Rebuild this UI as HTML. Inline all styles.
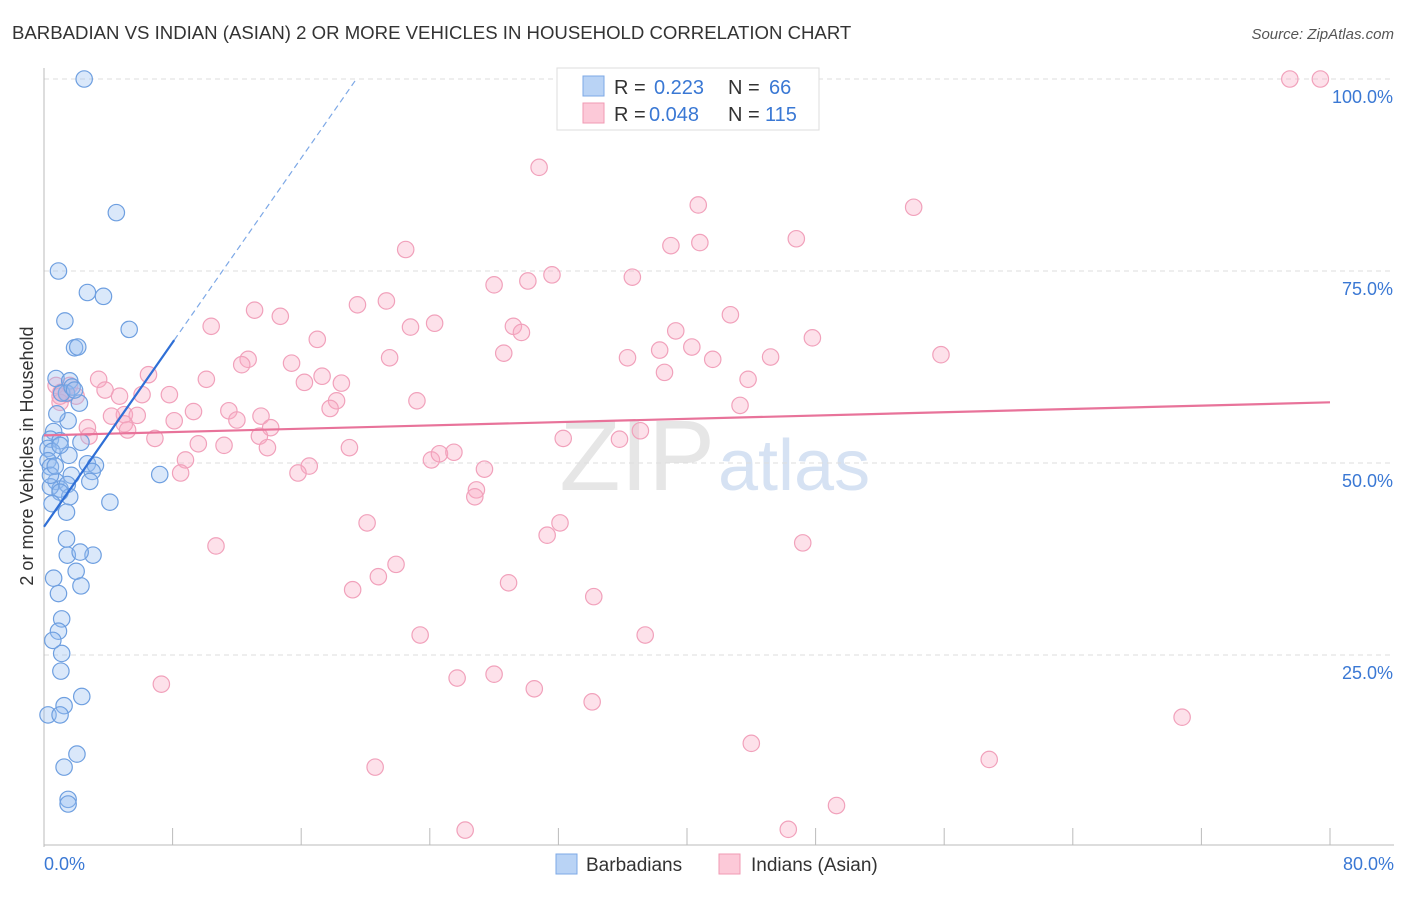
<!DOCTYPE html>
<html><head><meta charset="utf-8">
<style>
body{margin:0;background:#fff;font-family:"Liberation Sans",sans-serif;}
svg text{font-family:"Liberation Sans",sans-serif;}
</style></head>
<body>
<svg id="chart" width="1406" height="892">
<text x="12" y="39" font-size="18.6" fill="#333">BARBADIAN VS INDIAN (ASIAN) 2 OR MORE VEHICLES IN HOUSEHOLD CORRELATION CHART</text>
<text x="1394" y="39" font-size="15" fill="#555" text-anchor="end" font-style="italic">Source: ZipAtlas.com</text>
<text x="715" y="490" font-size="100" fill="#e6e6e6" text-anchor="end" font-family="Liberation Serif">ZIP</text>
<text x="718" y="490" font-size="72" fill="#d6e2f3">atlas</text>
<g id="grid"></g><g id="axes"></g><g id="pts"></g><g id="lines"></g>
<text transform="translate(33,456) rotate(-90)" font-size="18" fill="#333" text-anchor="middle">2 or more Vehicles in Household</text>
<g>
<rect x="557" y="68" width="262" height="62" fill="#fff" stroke="#ddd"/>
<rect x="583" y="76" width="21" height="20" fill="#b9d3f5" stroke="#7da8e6"/>
<rect x="583" y="103" width="21" height="20" fill="#fcc9d8" stroke="#f09ab3"/>
<text x="614" y="94" font-size="20" fill="#333">R = </text><text x="654" y="94" font-size="20" fill="#3a78d4">0.223</text>
<text x="728" y="94" font-size="20" fill="#333">N = </text><text x="769" y="94" font-size="20" fill="#3a78d4">66</text>
<text x="614" y="121" font-size="20" fill="#333">R = </text><text x="649" y="121" font-size="20" fill="#3a78d4">0.048</text>
<text x="728" y="121" font-size="20" fill="#333">N = </text><text x="765" y="121" font-size="20" fill="#3a78d4">115</text>
</g>
<g>
<rect x="556" y="854" width="21" height="20" fill="#b9d3f5" stroke="#7da8e6"/>
<text x="586" y="871" font-size="19" fill="#333">Barbadians</text>
<rect x="719" y="854" width="21" height="20" fill="#fcc9d8" stroke="#f09ab3"/>
<text x="751" y="871" font-size="19" fill="#333">Indians (Asian)</text>
</g>
</svg>
<script>
const blueX=[2.5,4.5,0.9,2.7,3.7,1.3,5.3,1.9,2.1,0.75,1.6,1.4,1.1,2.2,1.5,0.8,0.6,0.4,1.0,2.3,0.25,0.5,1.55,0.25,0.4,2.7,3.2,3.0,7.2,1.7,2.85,0.75,1.0,0.4,1.45,1.6,1.0,0.5,4.1,1.4,1.45,3.05,2.25,2.0,0.6,2.3,0.9,1.1,0.9,0.55,1.1,1.05,2.35,1.25,0.25,1.0,2.05,1.25,1.5,1.5,0.4,0.7,1.0,1.75,1.9,1.4];
const blueY=[100,82.6,75,72.2,71.7,68.5,67.4,65,65.1,61,60.7,59.1,59.1,57.8,55.5,56.4,54.1,53.1,52.9,52.7,51.9,51.5,51,50.3,49.5,49.9,49.7,48.9,48.5,48.4,47.6,47.6,46.6,46.9,47.2,45.6,46.2,44.7,44.9,40.1,38,38,38.4,35.9,35,34,33,29.7,28.1,26.9,25.2,22.9,19.6,18.4,17.2,17.2,12.1,10.4,6.2,5.6,48.4,49.6,52.3,59.9,59.5,43.6];
const pinkX=[77.5,79.4,30.8,40.7,54.1,22.5,39,40.8,46.8,28,30.1,31.6,36.6,13.1,14.7,19.5,21.3,10.4,22.8,24.3,29.2,29.7,39.3,42.7,17,28.6,12.7,12.3,15.4,21.5,36.3,38.3,40.3,41.6,45.2,47.8,55.8,6.5,10.1,17.3,16.2,18.5,38.6,43.8,0.75,1.6,1.05,2,3.4,3.8,1.0,4.7,6.1,7.8,18.2,23.2,43.3,5.0,5.8,9.3,11.5,13.5,12,8.1,17.8,4.2,2.7,5.0,5.2,2.8,6.9,14.1,13.4,13.9,9.6,11.2,19,32.3,35.8,37.1,8.8,8.5,16.5,15.8,24.1,24.6,25.5,27.4,26.9,26.8,20.1,32.1,31.3,10.7,47.2,21.9,20.8,19.2,28.9,34.2,23.4,37.4,7.3,25.7,28,30.5,34.1,44,70.8,58.8,20.6,49.3,26.2,46.3,1.4,1.0];
const pinkY=[100,100,88.5,83.6,83.3,77.8,78.3,78.7,79.2,73.2,73.7,74.5,74.2,69.9,69.1,70.6,71.1,67.8,67.7,68.2,67.8,67,67.2,69.3,66.1,64.3,63.5,62.8,63,63.7,63.7,64.7,65.1,63.5,63.8,66.3,64.1,61.5,60.9,61.3,60.5,60.4,61.8,60.9,60.1,60.1,59.2,58.7,60.9,59.5,57.9,58.7,58.9,58.9,58.1,58.1,57.5,56.3,56.2,56.7,56.8,56.1,55.6,55.5,57.1,56.1,54.6,55.1,54.3,53.5,53.2,54.6,53.5,52.0,52.5,52.3,52.0,53.2,53.1,54.2,50.4,48.7,49.6,48.7,50.4,51.2,51.4,49.2,46.5,45.6,42.2,42.2,40.6,39.2,39.6,36.8,35.2,33.5,34.4,32.6,27.6,27.6,21.2,22,22.5,20.6,18.9,13.5,16.9,11.4,10.4,5.4,2.2,2.3,59.0,58.7];
const NS='http://www.w3.org/2000/svg';
const X0=44,X1=1330,Y0=847,YS=7.68;
const sx=v=>X0+v/80*(X1-X0), sy=v=>Y0-v*YS;
function mk(tag,attrs,parent){const e=document.createElementNS(NS,tag);for(const k in attrs)e.setAttribute(k,attrs[k]);parent.appendChild(e);return e;}
const grid=document.getElementById('grid'),axes=document.getElementById('axes'),pts=document.getElementById('pts'),lines=document.getElementById('lines');
const yTicks=[25,50,75,100],yTickLabels=['25.0%','50.0%','75.0%','100.0%'];
yTicks.forEach((t,i)=>{
 const l=mk('line',{x1:X0,x2:1394,y1:sy(t),y2:sy(t),stroke:'#ddd','stroke-dasharray':'5,4'},grid);
 
 
 const tx=mk('text',{x:1393,y:sy(t)+24,'font-size':18,fill:'#3a78d4','text-anchor':'end'},axes);tx.textContent=yTickLabels[i];
 
 
});
const ax=mk('line',{x1:X0,x2:X0,y1:68,y2:847,stroke:'#bbb'},axes);


const bx=mk('line',{x1:X0,x2:1394,y1:845,y2:845,stroke:'#bbb'},axes);


for(let v=0;v<=80;v+=8){const t=mk('line',{x1:sx(v),x2:sx(v),y1:828,y2:845,stroke:'#bbb'},axes);
 
 }
const xl=[['0.0%',0,'start',44],['80.0%',80,'end',1394]];
xl.forEach(a=>{const t=mk('text',{x:a[3],y:870,'font-size':18,fill:'#3a78d4','text-anchor':a[2]},axes);t.textContent=a[0];
 
 });
pinkX.forEach((x,i)=>{const c=mk('circle',{cx:sx(x),cy:sy(pinkY[i]),r:8.2,fill:'rgba(248,170,195,0.35)',stroke:'#f1a1bb','stroke-width':1.2},pts);
 
 });
blueX.forEach((x,i)=>{const c=mk('circle',{cx:sx(x),cy:sy(blueY[i]),r:8.2,fill:'rgba(150,190,240,0.35)',stroke:'#6e9fe0','stroke-width':1.2},pts);
 
 });
const pinkTrend=[53.6,57.9],blueTrend=[41.7,66];
const pl=mk('line',{x1:sx(0),y1:sy(pinkTrend[0]),x2:sx(80),y2:sy(pinkTrend[1]),stroke:'#e8739a','stroke-width':2.2},lines);


const bl=mk('line',{x1:sx(0),y1:sy(blueTrend[0]),x2:sx(8.1),y2:sy(blueTrend[1]),stroke:'#2f6fd6','stroke-width':2.2},lines);


const slope=(blueTrend[1]-blueTrend[0])/8.1;const xe=(100-blueTrend[0])/slope;
const bd=mk('line',{x1:sx(8.1),y1:sy(blueTrend[1]),x2:sx(xe),y2:sy(100),stroke:'#7da8e6','stroke-width':1.2,'stroke-dasharray':'6,4'},lines);


</script>
</body></html>
